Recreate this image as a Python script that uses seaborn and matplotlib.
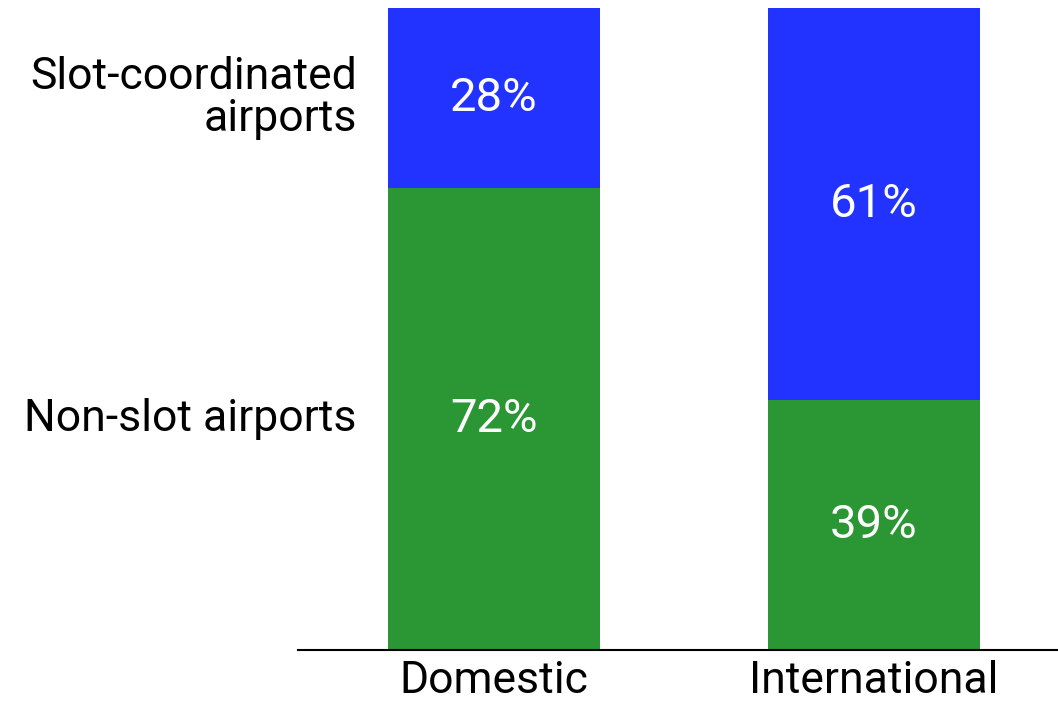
import matplotlib
matplotlib.use("Agg")
import matplotlib.pyplot as plt
import matplotlib.transforms as mtransforms
import seaborn as sns
import pandas as pd

categories = ["Domestic", "International"]
non_slot = [72, 39]
slot_coord = [28, 61]
series_names = ["Non-slot airports", "Slot-coordinated\nairports"]

green = "#2a9734"
blue = "#2233ff"

sns.set_theme(style="white")
plt.rcParams["font.family"] = ["Roboto", "DejaVu Sans"]

df = pd.DataFrame({"cat": categories, "non_slot": non_slot, "slot": slot_coord})
df["total"] = df["non_slot"] + df["slot"]

fig = plt.figure(figsize=(10.58, 7.02), dpi=100)
ax = fig.add_axes([0.2817, 0.0741, 0.7183, 0.9145])

# stacked: full total in blue, then non-slot part in green on top
sns.barplot(data=df, x="cat", y="total", color=blue, width=0.558, saturation=1,
            linewidth=0, ax=ax)
sns.barplot(data=df, x="cat", y="non_slot", color=green, width=0.558, saturation=1,
            linewidth=0, ax=ax)

for i, row in df.iterrows():
    ax.text(i, row["non_slot"] / 2, f"{row['non_slot']}%", ha="center", va="center",
            color="white", fontsize=34)
    ax.text(i, row["non_slot"] + row["slot"] / 2, f"{row['slot']}%", ha="center", va="center",
            color="white", fontsize=34)

# series labels on the left, lined up with the domestic segments
trans = mtransforms.blended_transform_factory(fig.transFigure, ax.transData)
ax.text(357 / 1058, df["non_slot"][0] / 2, series_names[0], transform=trans,
        ha="right", va="center", fontsize=32, color="black")
ax.text(357 / 1058, df["non_slot"][0] + df["slot"][0] / 2, series_names[1], transform=trans,
        ha="right", va="center", fontsize=32, color="black", linespacing=1.0)

ax.set_xlim(-0.515, 1.484)
ax.set_ylim(0, 100)
ax.set_xlabel("")
ax.set_ylabel("")
ax.set_yticks([])
ax.tick_params(axis="x", length=0, labelsize=32, pad=7, colors="black")
sns.despine(ax=ax, left=True)
ax.spines["bottom"].set_color("black")
ax.spines["bottom"].set_linewidth(1.5)

fig.savefig("out.png", dpi=100)
plt.close(fig)
